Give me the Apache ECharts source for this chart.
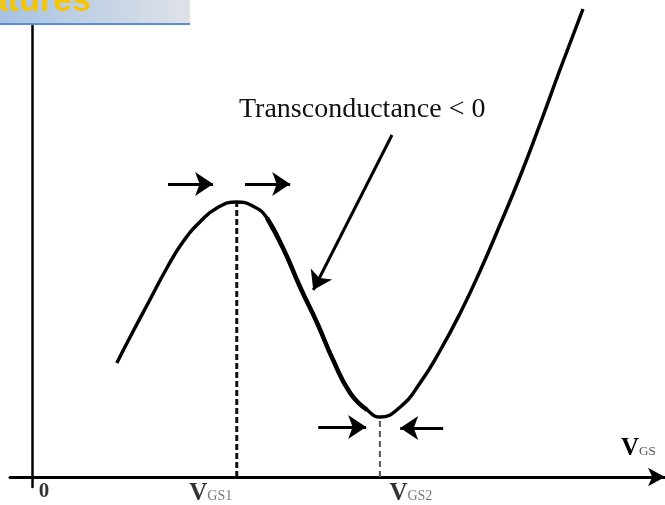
<!DOCTYPE html>
<html>
<head>
<meta charset="utf-8">
<style>
  html, body { margin: 0; padding: 0; background: #fff; }
  #chart { width: 665px; height: 505px; }
</style>
<script src="https://cdn.jsdelivr.net/npm/echarts@6/dist/echarts.min.js"></script>
</head>
<body>
<div id="chart"></div>
<script>
// drain current curve (x in V_GS units, y in I_D units)
var curveX = [1.54, 1.83, 2.14, 2.45, 2.74, 3.05, 3.36, 3.72, 4.01, 4.27, 4.56, 4.87, 5.18, 5.47, 5.78, 6.09, 6.32, 6.69, 7.05, 7.41, 7.78, 8.14, 8.50, 8.87, 9.23, 9.59, 10.01];
var curveY = [5.70, 7.25, 8.85, 10.45, 11.75, 12.75, 13.45, 13.75, 13.55, 12.95, 11.45, 9.50, 7.70, 5.85, 4.20, 3.35, 3.00, 3.50, 4.70, 6.30, 8.20, 10.30, 12.60, 15.05, 17.65, 20.35, 23.40];

// turning points
var vgsNames = ['0', 'GS1', 'GS2'];
var vgsValues = [0, 3.72, 6.32];
var peakY = 13.75;
var valleyY = 3.00;

// small arrows [x1, y1, x2, y2]
var arrows = [
    [2.47, 14.65, 3.29, 14.65],
    [3.87, 14.65, 4.69, 14.65],
    [5.20, 2.50, 6.07, 2.50],
    [7.47, 2.45, 6.69, 2.45],
    [6.54, 17.10, 5.11, 9.35]
];

var curveData = curveX.map(function (x, i) { return [x, curveY[i]]; });
// the falling stretch is drawn a little heavier in the original
var fallData = curveData.slice(9, 16);

var arrowLines = arrows.map(function (a) {
    return [{ coord: [a[0], a[1]] }, { coord: [a[2], a[3]] }];
});

var labelOffsets = [[12, 0], [-26, 0], [31, 0]];
var labelData = vgsValues.map(function (v, i) {
    var txt = i === 0 ? '{z|0}' : '{v|V}{s|' + vgsNames[i] + '}';
    return {
        value: [v, 0],
        label: { formatter: txt, offset: labelOffsets[i] }
    };
});

var serif = '"Liberation Serif", "DejaVu Serif", serif';
var richLabels = {
    z: { fontFamily: serif, fontSize: 21, fontWeight: 'bold', color: '#000' },
    v: { fontFamily: serif, fontSize: 25, fontWeight: 'bold', color: '#000' },
    s: { fontFamily: serif, fontSize: 14, color: '#555', padding: [6, 0, 0, 0] }
};

var dom = document.getElementById('chart');
var myChart = echarts.init(dom, null, { renderer: 'canvas' });

var option = {
    animation: false,
    backgroundColor: '#fff',
    grid: { left: 10, right: 0, top: 0, bottom: 18 },
    xAxis: {
        type: 'value',
        min: -0.4,
        max: 11.5,
        axisLine: {
            onZero: true,
            symbol: ['none', 'arrow'],
            symbolSize: [14, 17],
            lineStyle: { color: '#000', width: 3 }
        },
        axisTick: { show: false },
        axisLabel: { show: false },
        splitLine: { show: false }
    },
    yAxis: {
        type: 'value',
        min: -0.5,
        max: 23.85,
        axisLine: {
            show: true,
            onZero: true,
            lineStyle: { color: '#000', width: 2.5 }
        },
        axisTick: { show: false },
        axisLabel: { show: false },
        splitLine: { show: false }
    },
    series: [
        {
            name: 'curve',
            type: 'line',
            data: curveData,
            smooth: 0.5,
            symbol: 'none',
            lineStyle: { color: '#000', width: 3.5 },
            z: 5
        },
        {
            name: 'fall',
            type: 'line',
            data: fallData,
            smooth: 0.5,
            symbol: 'none',
            lineStyle: { color: '#000', width: 4.5 },
            z: 6
        },
        {
            name: 'vgs1',
            type: 'line',
            data: [[vgsValues[1], 0], [vgsValues[1], peakY]],
            symbol: 'none',
            lineStyle: { color: '#111', width: 3, type: [6, 3] },
            z: 3
        },
        {
            name: 'vgs2',
            type: 'line',
            data: [[vgsValues[2], 0], [vgsValues[2], valleyY]],
            symbol: 'none',
            lineStyle: { color: '#555', width: 2, type: [6, 4] },
            z: 3
        },
        {
            name: 'arrows',
            type: 'line',
            data: [],
            markLine: {
                silent: true,
                symbol: ['none', 'arrow'],
                symbolSize: 18,
                label: { show: false },
                lineStyle: { color: '#000', width: 3, type: 'solid' },
                emphasis: { disabled: true },
                data: arrowLines
            }
        },
        {
            name: 'ticks',
            type: 'scatter',
            symbolSize: 0,
            data: labelData,
            label: {
                show: true,
                position: 'bottom',
                distance: 4,
                rich: richLabels
            },
            silent: true
        }
    ],
    graphic: [
        {
            type: 'rect',
            z: 100,
            shape: { x: 0, y: 0, width: 190, height: 23 },
            style: {
                fill: new echarts.graphic.LinearGradient(0, 0, 1, 0, [
                    { offset: 0, color: '#a6c2e3' },
                    { offset: 1, color: '#dfe2e7' }
                ])
            }
        },
        {
            type: 'rect',
            z: 101,
            shape: { x: 0, y: 23, width: 190, height: 2 },
            style: { fill: '#5b8fd2' }
        },
        {
            type: 'text',
            z: 102,
            x: 91,
            y: 19,
            style: {
                text: 'Features',
                align: 'right',
                verticalAlign: 'bottom',
                font: 'bold 34px "Liberation Sans", Arial, sans-serif',
                fill: '#f6c500'
            }
        },
        {
            type: 'text',
            z: 50,
            x: 239,
            y: 96,
            style: {
                text: 'Transconductance < 0',
                font: '28px "Liberation Serif", serif',
                fill: '#111'
            }
        },
        {
            type: 'text',
            z: 50,
            x: 621,
            y: 436,
            style: {
                text: '{v|V}{s|GS}',
                rich: {
                    v: { fontFamily: serif, fontSize: 25, fontWeight: 'bold', fill: '#000' },
                    s: { fontFamily: serif, fontSize: 13, fill: '#555', padding: [6, 0, 0, 0] }
                }
            }
        }
    ]
};

if (option && typeof option === "object") {
    myChart.setOption(option, true);
}
</script>
</body>
</html>
